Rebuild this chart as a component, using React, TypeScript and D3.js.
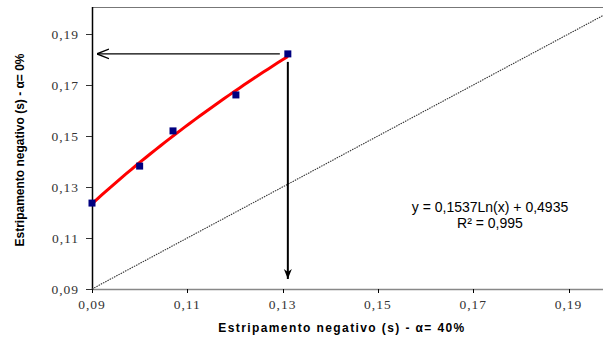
import * as d3 from "d3";
import React, { useEffect, useRef } from "react";

// values
const xValues = [0.09, 0.1, 0.107, 0.1202, 0.1311];
const yValues = [0.1237, 0.1382, 0.152, 0.1661, 0.1822];
const xTicks = [0.09, 0.11, 0.13, 0.15, 0.17, 0.19];
const yTicks = [0.09, 0.11, 0.13, 0.15, 0.17, 0.19];
const fitA = 0.1537;
const fitB = 0.4935;
const fitLabel = "y = 0,1537Ln(x) + 0,4935";
const r2Label = "R² = 0,995";

const fmt = (v: number) => v.toFixed(2).replace(".", ",");

export default function App() {
  const svgRef = useRef<SVGSVGElement | null>(null);

  useEffect(() => {
    const svg = d3.select(svgRef.current);
    svg.selectAll("*").remove();

    const W = 603;
    const H = 338;
    const left = 92;
    const top = 7;
    const bottom = 289;

    const x = d3.scaleLinear().domain([0.09, 0.2]).range([left, left + 5.5 * 95.3]);
    const y = d3.scaleLinear().domain([0.09, 0.2]).range([bottom, bottom - 5.5 * 51]);

    svg.attr("width", W).attr("height", H);

    const defs = svg.append("defs");
    defs
      .append("marker")
      .attr("id", "arr")
      .attr("viewBox", "0 0 10 10")
      .attr("refX", 10)
      .attr("refY", 5)
      .attr("markerWidth", 12)
      .attr("markerHeight", 12)
      .attr("markerUnits", "userSpaceOnUse")
      .attr("orient", "auto")
      .append("path")
      .attr("d", "M0,1 L10,5 L0,9")
      .attr("fill", "none")
      .attr("stroke", "#000")
      .attr("stroke-width", 1.2);
    defs
      .append("marker")
      .attr("id", "arrSolid")
      .attr("viewBox", "0 0 10 10")
      .attr("refX", 10)
      .attr("refY", 5)
      .attr("markerWidth", 10)
      .attr("markerHeight", 16)
      .attr("markerUnits", "userSpaceOnUse")
      .attr("orient", "auto")
      .append("path")
      .attr("d", "M0,1 L10,5 L0,9 L3,5 Z")
      .attr("fill", "#000");

    // top border
    svg
      .append("line")
      .attr("x1", left)
      .attr("x2", W)
      .attr("y1", top + 0.5)
      .attr("y2", top + 0.5)
      .attr("stroke", "#777");

    // bottom axis
    const gx = svg.append("g");
    gx.append("line")
      .attr("x1", left)
      .attr("x2", W)
      .attr("y1", bottom + 0.5)
      .attr("y2", bottom + 0.5)
      .attr("stroke", "#888")
      .attr("stroke-width", 1.5);
    gx.selectAll(".xt")
      .data(xTicks)
      .enter()
      .append("line")
      .attr("x1", (d) => Math.round(x(d)) + 0.5)
      .attr("x2", (d) => Math.round(x(d)) + 0.5)
      .attr("y1", bottom)
      .attr("y2", bottom + 4)
      .attr("stroke", "#000");
    gx.selectAll(".xl")
      .data(xTicks)
      .enter()
      .append("text")
      .attr("x", (d) => x(d))
      .attr("y", bottom + 20)
      .attr("text-anchor", "middle")
      .attr("font-family", "Liberation Serif, serif")
      .attr("font-size", 13.5)
      .attr("letter-spacing", 1)
      .attr("fill", "#333")
      .text((d) => fmt(d));

    // left axis
    const gy = svg.append("g");
    gy.append("line")
      .attr("x1", left + 0.5)
      .attr("x2", left + 0.5)
      .attr("y1", top)
      .attr("y2", bottom + 1)
      .attr("stroke", "#000")
      .attr("stroke-width", 1.5);
    gy.selectAll(".yt")
      .data(yTicks)
      .enter()
      .append("line")
      .attr("x1", left - 6)
      .attr("x2", left)
      .attr("y1", (d) => Math.round(y(d)) + 0.5)
      .attr("y2", (d) => Math.round(y(d)) + 0.5)
      .attr("stroke", "#333");
    gy.selectAll(".yl")
      .data(yTicks)
      .enter()
      .append("text")
      .attr("x", left - 13)
      .attr("y", (d) => y(d) + 4.5)
      .attr("text-anchor", "end")
      .attr("font-family", "Liberation Serif, serif")
      .attr("font-size", 13.5)
      .attr("letter-spacing", 1)
      .attr("fill", "#333")
      .text((d) => fmt(d));

    // 1:1 dotted line
    svg
      .append("line")
      .attr("x1", x(0.09))
      .attr("y1", y(0.09))
      .attr("x2", x(0.2))
      .attr("y2", y(0.2))
      .attr("stroke", "#333")
      .attr("stroke-width", 1.1)
      .attr("stroke-dasharray", "1.5,1");

    // fitted log curve
    const fitXs = d3.range(0, 41).map((i) => xValues[0] + ((xValues[xValues.length - 1] - xValues[0]) * i) / 40);
    const line = d3
      .line<number>()
      .x((d) => x(d))
      .y((d) => y(fitA * Math.log(d) + fitB));
    svg
      .append("path")
      .datum(fitXs)
      .attr("d", line)
      .attr("fill", "none")
      .attr("stroke", "#ff0000")
      .attr("stroke-width", 3);

    // points
    svg
      .selectAll(".pt")
      .data(xValues)
      .enter()
      .append("rect")
      .attr("x", (d) => x(d) - 3.5)
      .attr("y", (d, i) => y(yValues[i]) - 3.5)
      .attr("width", 7)
      .attr("height", 7)
      .attr("fill", "#000080");

    // arrows from the last point
    const lx = x(xValues[xValues.length - 1]);
    const ly = y(yValues[yValues.length - 1]);
    svg
      .append("line")
      .attr("x1", lx - 8)
      .attr("y1", ly)
      .attr("x2", left + 5)
      .attr("y2", ly)
      .attr("stroke", "#000")
      .attr("stroke-width", 1.3)
      .attr("marker-end", "url(#arr)");
    svg
      .append("line")
      .attr("x1", lx)
      .attr("y1", ly + 8)
      .attr("x2", lx)
      .attr("y2", bottom - 10)
      .attr("stroke", "#000")
      .attr("stroke-width", 2)
      .attr("marker-end", "url(#arrSolid)");

    // equation
    svg
      .append("text")
      .attr("x", 490)
      .attr("y", 212)
      .attr("text-anchor", "middle")
      .attr("font-family", "Liberation Sans, Arial, sans-serif")
      .attr("font-size", 14)
      .text(fitLabel);
    svg
      .append("text")
      .attr("x", 490)
      .attr("y", 228)
      .attr("text-anchor", "middle")
      .attr("font-family", "Liberation Sans, Arial, sans-serif")
      .attr("font-size", 14)
      .text(r2Label);

    // axis titles
    svg
      .append("text")
      .attr("x", 342)
      .attr("y", 332)
      .attr("text-anchor", "middle")
      .attr("font-family", "Liberation Sans, Arial, sans-serif")
      .attr("font-size", 12)
      .attr("font-weight", "bold")
      .attr("letter-spacing", 1.4)
      .text("Estripamento negativo (s) - α= 40%");
    svg
      .append("text")
      .attr("transform", "translate(24,150) rotate(-90)")
      .attr("text-anchor", "middle")
      .attr("font-family", "Liberation Sans, Arial, sans-serif")
      .attr("font-size", 12)
      .attr("font-weight", "bold")
      .text("Estripamento negativo (s) - α= 0%");
  }, []);

  return (
    <svg
      ref={svgRef}
      style={{ position: "absolute", left: 0, top: 0, background: "#fff" }}
    />
  );
}
